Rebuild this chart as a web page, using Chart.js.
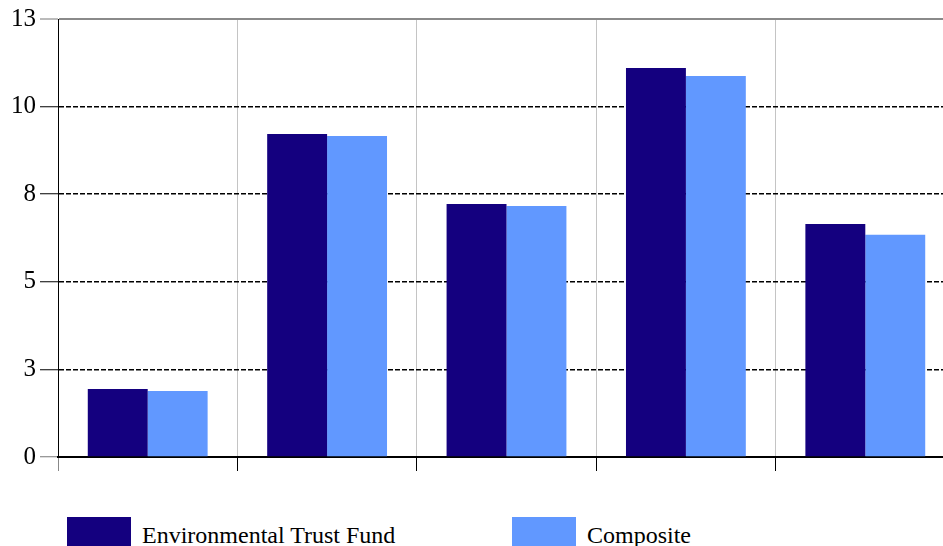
<!DOCTYPE html>
<html>
<head>
<meta charset="utf-8">
<script src="https://cdn.jsdelivr.net/npm/chart.js@4"></script>
<style>
    html, body { margin: 0; padding: 0; background: #fff; overflow: hidden; width: 943px; height: 546px; }
    #wrap { position: relative; width: 955px; height: 476px; }
    #legend { display: flex; margin-top: 41px; padding-left: 67px; font-family: "Liberation Serif", serif; font-size: 24px; color: #000; width: 1000px; }
    .item { display: flex; align-items: center; width: 445px; flex-shrink: 0; }
    .box { width: 64px; height: 30px; margin-right: 11px; }
    .item span { position: relative; top: 3px; }
</style>
</head>
<body>
<div id="wrap"><canvas id="chart"></canvas></div>
<div id="legend"></div>
<script>
const categories = ['Period 1', 'Period 2', 'Period 3', 'Period 4', 'Period 5'];
const trustFund = [1.94, 9.22, 7.22, 11.10, 6.65];
const composite = [1.88, 9.16, 7.16, 10.87, 6.34];
const seriesNames = ['Environmental Trust Fund', 'Composite'];
const seriesColors = ['#14007f', '#6198ff'];
const yTicks = [0, 2.5, 5, 7.5, 10, 12.5];

Chart.defaults.font.family = 'Liberation Serif';

const chart = new Chart(document.getElementById('chart'), {
    type: 'bar',
    data: {
        labels: categories,
        datasets: [
            { label: seriesNames[0], data: trustFund, backgroundColor: seriesColors[0] },
            { label: seriesNames[1], data: composite, backgroundColor: seriesColors[1] }
        ]
    },
    options: {
        responsive: true,
        maintainAspectRatio: false,
        animation: false,
        categoryPercentage: 0.668,
        barPercentage: 1.0,
        layout: { padding: { left: 7, top: 10, right: 0, bottom: 3 } },
        plugins: {
            legend: { display: false },
            tooltip: { enabled: false },
            title: { display: false }
        },
        scales: {
            x: {
                grid: {
                    offset: true,
                    color: '#c4c4c4',
                    lineWidth: 1,
                    tickLength: 14,
                    tickColor: ctx => ctx.index === 0 ? '#888' : '#000'
                },
                border: { display: true, color: '#000', width: 2 },
                ticks: { display: false }
            },
            y: {
                min: 0,
                max: yTicks[yTicks.length - 1],
                afterBuildTicks: axis => { axis.ticks = yTicks.map(v => ({ value: v })); },
                grid: {
                    color: ctx => (ctx.tick && ctx.tick.value === 12.5) ? '#8a8a8a' : '#000',
                    lineWidth: ctx => (ctx.tick && ctx.tick.value === 12.5) ? 2 : 1.5,
                    tickLength: 18,
                    tickColor: ctx => (ctx.tick && (ctx.tick.value === 12.5 || ctx.tick.value === 0)) ? '#777' : '#000',
                    tickWidth: 1
                },
                border: {
                    display: true,
                    color: '#000',
                    width: 1,
                    dash: ctx => {
                        if (!ctx.tick) return [];
                        const v = ctx.tick.value;
                        return (v === 0 || v === 12.5) ? [] : [5, 2];
                    }
                },
                ticks: {
                    color: '#000',
                    padding: 4,
                    font: { family: 'Liberation Serif', size: 25 },
                    callback: v => Math.round(v)
                }
            }
        }
    }
});

// legend below the chart
const legend = document.getElementById('legend');
chart.data.datasets.forEach(ds => {
    const item = document.createElement('div');
    item.className = 'item';
    const box = document.createElement('div');
    box.className = 'box';
    box.style.background = ds.backgroundColor;
    const txt = document.createElement('span');
    txt.textContent = ds.label;
    item.appendChild(box);
    item.appendChild(txt);
    legend.appendChild(item);
});
</script>
</body>
</html>
